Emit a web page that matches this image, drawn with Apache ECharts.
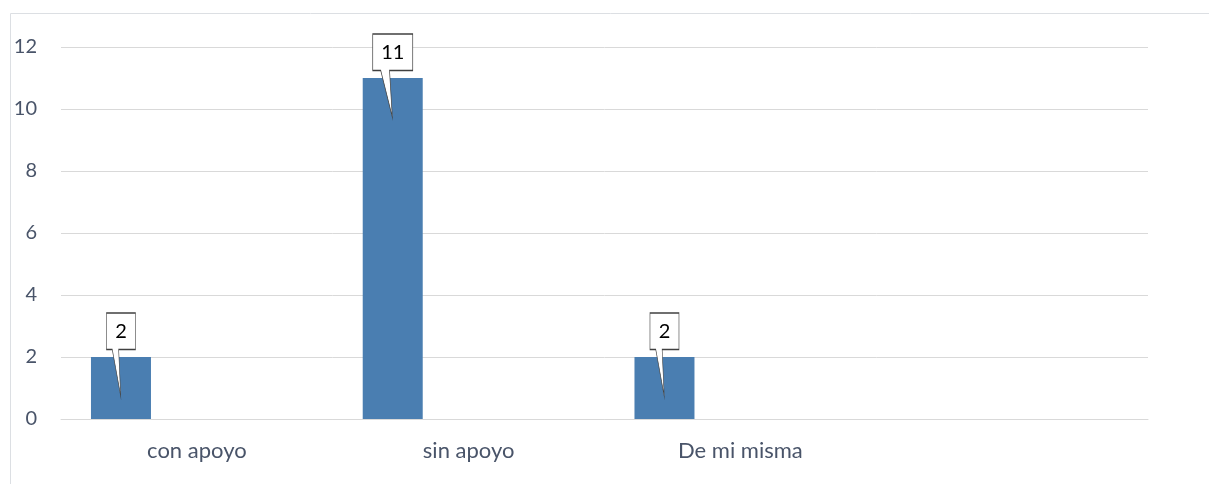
<!DOCTYPE html>
<html>
<head>
<meta charset="utf-8">
<script src="https://cdn.jsdelivr.net/npm/echarts@6/dist/echarts.min.js"></script>
<style>
  html, body { margin: 0; padding: 0; background: #fff; }
  #chart { width: 1209px; height: 484px; }
</style>
</head>
<body>
<div id="chart"></div>
<script>
// datos
const categories = ['con apoyo', 'sin apoyo', 'De mi misma', '']
const counts = [2, 11, 2, null]
const yTicks = [0, 2, 4, 6, 8, 10, 12]

const textColor = '#495469'
const gridColor = '#d9d9d9'
const barColor = '#4a7eb1'

// forma de la llamada (caja + cola), se estira al symbolSize
const calloutPath = 'path://M0 0 L100 0 L100 44 L42 44 L49 100 L20 44 L0 44 Z'

const chart = echarts.init(document.getElementById('chart'))

const marks = []
counts.forEach((v, i) => {
  if (v === null) return
  const w = String(v).length > 1 ? 40 : 29
  marks.push({
    coord: [categories[i], v],
    value: v,
    symbolSize: [w, 83]
  })
})

const option = {
  animation: false,
  textStyle: { fontFamily: 'Lato, "Open Sans", sans-serif' },
  graphic: [{
    type: 'rect',
    shape: { x: 10.5, y: 13.5, width: 1220, height: 500 },
    style: { fill: 'none', stroke: '#dcdfe3', lineWidth: 1 },
    silent: true
  }],
  grid: { left: 61, right: 61, top: 47, bottom: 65 },
  xAxis: {
    type: 'category',
    data: categories,
    axisLine: { show: true, lineStyle: { color: gridColor } },
    axisTick: { show: false },
    axisLabel: { color: textColor, fontSize: 22, margin: 21 }
  },
  yAxis: {
    type: 'value',
    min: yTicks[0],
    max: yTicks[yTicks.length - 1],
    interval: 2,
    axisLine: { show: false },
    axisTick: { show: false },
    axisLabel: { color: textColor, fontSize: 20, margin: 24 },
    splitLine: { lineStyle: { color: gridColor, width: 1 } }
  },
  series: [
    {
      name: 'Total',
      type: 'bar',
      data: counts,
      barWidth: 60,
      barGap: '26.5%',
      itemStyle: { color: barColor },
      markPoint: {
        symbol: calloutPath,
        symbolOffset: [0, -2.5],
        itemStyle: { color: '#fff', borderColor: '#404040', borderWidth: 1 },
        label: {
          show: true,
          position: 'inside',
          offset: [0, -23],
          color: '#000',
          fontSize: 20,
          formatter: p => p.value
        },
        data: marks
      }
    },
    { name: 's2', type: 'bar', data: [], barWidth: 60, barGap: '26.5%' },
    { name: 's3', type: 'bar', data: [], barWidth: 60, barGap: '26.5%' }
  ]
}

chart.setOption(option)
</script>
</body>
</html>
